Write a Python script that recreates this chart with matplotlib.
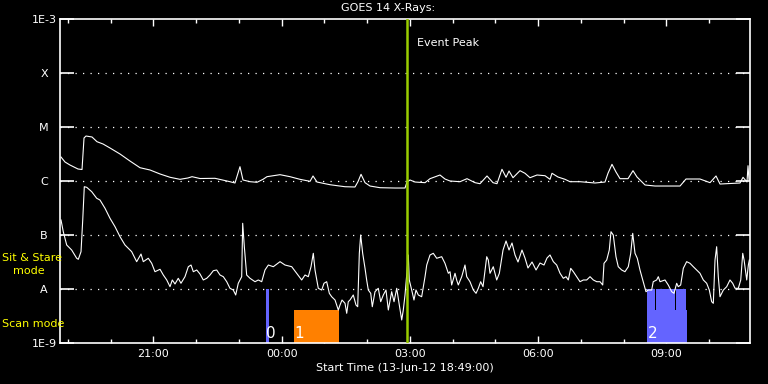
from datetime import datetime, timedelta

import matplotlib
matplotlib.use("Agg")
import matplotlib.pyplot as plt
import matplotlib.dates as mdates
import matplotlib.ticker as mticker
import numpy as np


START = datetime(2012, 6, 13, 18, 49)
END_MIN = 968.4

# minutes after start, log10 flux (W/m^2)
long_min = [1.4, 7.0, 14.0, 25.3, 30.9, 33.7, 36.5, 44.9, 51.9, 60.4, 70.2, 84.2, 98.2,
            112.3, 126.3, 140.4, 154.4, 168.4, 179.6, 185.3, 196.5, 217.5, 238.6, 245.6,
            252.6, 256.8, 266.7, 276.5, 284.9, 290.5, 308.8, 322.8, 336.8, 350.9, 355.1,
            360.7, 379.0, 400.0, 414.0, 418.2, 422.5, 428.1, 435.1, 449.1, 470.2, 484.2,
            487.0, 491.2, 498.2, 512.3, 519.3, 533.3, 540.3, 547.4, 561.4, 571.2, 582.5,
            589.5, 599.3, 607.7, 613.3, 620.3, 626.0, 630.2, 635.8, 645.6, 652.6, 659.6,
            669.5, 680.7, 687.7, 690.5, 698.9, 708.8, 715.8, 729.8, 750.9, 764.9, 769.1,
            774.7, 780.3, 786.0, 797.2, 804.2, 809.8, 821.1, 835.1, 870.2, 878.6, 898.2,
            912.3, 920.7, 926.3, 954.4, 958.6, 964.2, 965.6, 967.0]
long_log = [-5.556, -5.648, -5.704, -5.778, -5.787, -5.204, -5.167, -5.185, -5.272, -5.315,
            -5.389, -5.500, -5.630, -5.754, -5.796, -5.870, -5.931, -5.969, -5.944, -5.920,
            -5.954, -5.950, -6.013, -6.037, -5.735, -5.981, -6.013, -6.024, -5.969, -5.920,
            -5.883, -5.920, -5.969, -6.006, -5.907, -6.019, -6.069, -6.106, -6.111, -6.013,
            -5.876, -6.031, -6.093, -6.124, -6.130, -6.130, -6.019, -5.981, -6.019, -6.031,
            -5.957, -5.889, -5.963, -6.000, -6.013, -5.957, -6.031, -6.050, -5.907, -6.031,
            -6.050, -5.783, -5.931, -5.815, -5.939, -5.809, -5.857, -5.939, -5.889, -5.902,
            -5.969, -5.857, -5.926, -5.969, -6.013, -6.013, -6.037, -6.019, -5.857, -5.691,
            -5.833, -5.957, -5.957, -5.809, -5.926, -6.074, -6.093, -6.093, -5.963, -5.963,
            -6.031, -5.907, -6.056, -6.037, -5.931, -6.019, -5.717, -5.980]

short_min = [1.4, 2.8, 4.6, 9.4, 16.4, 23.4, 25.7, 29.5, 31.9, 34.1, 37.5, 44.5, 51.5, 56.1,
             63.2, 70.2, 77.2, 84.2, 91.2, 100.6, 107.6, 113.7, 116.9, 123.9, 128.7, 133.3,
             140.4, 145.0, 149.8, 154.4, 157.6, 161.4, 166.0, 169.8, 175.4, 180.1, 183.9,
             187.1, 191.9, 196.5, 201.1, 205.9, 210.5, 215.2, 219.9, 224.6, 229.2, 234.0,
             238.6, 243.2, 246.6, 250.2, 255.0, 256.4, 258.7, 262.0, 266.7, 273.7, 278.3,
             283.1, 287.7, 292.4, 299.4, 308.8, 315.8, 325.2, 332.2, 339.2, 343.9, 348.5,
             352.3, 355.5, 357.9, 362.5, 367.3, 370.5, 374.3, 378.0, 381.3, 386.0, 388.3,
             390.6, 393.0, 395.8, 400.0, 402.4, 404.6, 407.0, 411.6, 415.4, 417.8, 420.1,
             422.0, 424.8, 428.1, 430.4, 432.7, 436.1, 438.3, 442.1, 446.7, 450.1, 453.8,
             457.5, 460.8, 465.5, 468.8, 472.6, 476.2, 479.6, 481.8, 484.2, 486.6, 488.8,
             490.2, 493.6, 496.8, 499.6, 502.9, 507.6, 509.9, 512.3, 514.7, 519.3, 523.9,
             528.7, 535.7, 540.3, 545.0, 547.4, 549.7, 554.4, 556.7, 559.0, 563.8, 568.4,
             570.8, 575.4, 580.1, 583.9, 587.1, 590.4, 593.7, 598.9, 601.1, 603.5, 608.1,
             612.9, 616.6, 621.8, 626.0, 630.2, 634.4, 638.6, 642.8, 648.4, 652.6, 656.8,
             662.5, 668.1, 673.7, 679.3, 683.5, 687.7, 692.4, 697.1, 701.8, 706.4, 710.2,
             713.4, 716.8, 720.5, 725.2, 729.8, 734.5, 739.2, 743.9, 748.5, 753.3, 757.9,
             761.7, 763.5, 767.3, 770.9, 773.3, 776.5, 780.3, 783.5, 788.3, 792.9, 797.6,
             801.0, 803.8, 807.0, 810.2, 814.0, 818.6, 822.4, 825.6, 830.4, 832.6, 837.4,
             839.7, 842.1, 849.1, 853.7, 858.5, 861.7, 865.5, 867.7, 871.1, 874.8, 879.5,
             884.2, 888.8, 893.6, 898.2, 902.9, 907.6, 911.3, 914.6, 916.9, 919.3, 921.6,
             923.9, 926.3, 928.7, 931.0, 935.7, 940.3, 944.1, 947.4, 952.0, 955.4, 958.2,
             960.1, 963.8, 966.1, 967.5]
short_log = [-6.722, -6.815, -6.939, -7.185, -7.278, -7.431, -7.450, -7.309, -6.722, -6.106,
             -6.117, -6.198, -6.320, -6.352, -6.506, -6.691, -6.846, -7.031, -7.185, -7.309,
             -7.494, -7.352, -7.494, -7.431, -7.524, -7.680, -7.635, -7.741, -7.833, -7.957,
             -7.833, -7.907, -7.802, -7.894, -7.772, -7.587, -7.556, -7.680, -7.648, -7.722,
             -7.833, -7.802, -7.741, -7.661, -7.648, -7.741, -7.772, -7.865, -7.987, -8.019,
             -8.111, -7.894, -7.772, -6.783, -7.217, -7.741, -7.802, -7.865, -7.833, -7.865,
             -7.648, -7.556, -7.587, -7.494, -7.556, -7.587, -7.709, -7.833, -7.741, -7.772,
             -7.587, -7.339, -7.648, -7.987, -8.019, -7.894, -7.865, -8.080, -8.143, -8.204,
             -8.296, -8.389, -8.296, -8.204, -8.265, -8.450, -8.235, -8.204, -8.111, -8.296,
             -8.328, -7.339, -7.000, -7.339, -7.617, -7.833, -8.019, -8.080, -8.328, -8.050,
             -7.987, -8.235, -8.111, -8.019, -8.389, -8.050, -8.235, -7.987, -8.296, -8.574,
             -8.389, -8.111, -7.741, -7.370, -7.833, -8.019, -8.204, -8.019, -8.111, -8.143,
             -7.957, -7.772, -7.556, -7.370, -7.339, -7.431, -7.402, -7.524, -7.709, -7.680,
             -7.926, -7.709, -7.833, -7.926, -7.772, -7.556, -7.772, -7.865, -8.019, -8.080,
             -7.987, -7.865, -7.957, -7.402, -7.463, -7.709, -7.587, -7.833, -7.709, -7.278,
             -7.111, -7.278, -7.148, -7.370, -7.500, -7.278, -7.426, -7.611, -7.500, -7.648,
             -7.519, -7.556, -7.426, -7.370, -7.494, -7.556, -7.709, -7.802, -7.772, -7.833,
             -7.617, -7.680, -7.772, -7.865, -7.833, -7.833, -7.772, -7.833, -7.865, -7.865,
             -7.926, -7.524, -7.463, -7.278, -6.939, -7.000, -7.402, -7.587, -7.648, -7.680,
             -7.587, -7.339, -6.969, -7.339, -7.431, -7.648, -7.865, -8.050, -8.019, -8.019,
             -7.865, -7.833, -7.772, -7.865, -7.833, -7.926, -8.050, -8.080, -7.894, -7.957,
             -7.926, -7.617, -7.494, -7.524, -7.587, -7.648, -7.709, -7.833, -7.894, -8.019,
             -8.235, -8.265, -7.463, -7.217, -7.772, -8.143, -8.080, -8.019, -7.957, -7.833,
             -7.894, -7.987, -7.987, -7.833, -7.339, -7.463, -7.833, -7.556, -7.463]

# observation windows in minutes after start
sit_stare = [(289.1, 292.9), (823.9, 835.2), (836.2, 863.3), (864.3, 878.2)]
scan = [(328.4, 391.6), (823.9, 879.6)]
scan_colors = ["#ff8000", "#6464ff"]
obs_labels = [(289.5, "0"), (329.5, "1"), (824.5, "2")]
peak_min = 487.0

flux_levels = [1e-9, 1e-8, 1e-7, 1e-6, 1e-5, 1e-4, 1e-3]
flux_names = ["1E-9", "A", "B", "C", "M", "X", "1E-3"]


def t(m):
    return START + timedelta(minutes=m)


fig = plt.figure(figsize=(7.68, 3.84), dpi=100, facecolor="black")
ax = fig.add_axes([60 / 768, 41 / 384, 690 / 768, 324 / 384], facecolor="black")
ax.set_yscale("log")
ax.set_ylim(1e-9, 1e-3)
ax.set_xlim(t(0), t(END_MIN))

for level in flux_levels[1:-1]:
    ax.axhline(level, color="white", lw=0.9, ls=(0, (1, 5)), zorder=1)

# observation bars
for (a, b) in sit_stare:
    ax.fill_between([t(a), t(b)], 1e-9, 1e-8, color="#6464ff", lw=0, zorder=2)
for (a, b), c in zip(scan, scan_colors):
    ax.fill_between([t(a), t(b)], 1e-9, 10 ** -8.389, color=c, lw=0, zorder=2)
for (m, lab) in obs_labels:
    ax.text(t(m), 10 ** -8.82, lab, color="white", fontsize=11, ha="left", va="center", zorder=4)

ax.plot([t(m) for m in long_min], 10 ** np.array(long_log), color="white", lw=0.8, zorder=3)
ax.plot([t(m) for m in short_min], 10 ** np.array(short_log), color="white", lw=0.8, zorder=3)

ax.axvline(t(peak_min), color="#9acd00", lw=1.8, zorder=3)
ax.text(t(peak_min + 14), 10 ** -3.44, "Event Peak", color="white", fontsize=8, va="center")

# axes styling
for sp in ax.spines.values():
    sp.set_color("white")
    sp.set_linewidth(1.2)
ax.yaxis.set_major_locator(mticker.FixedLocator(flux_levels))
ax.yaxis.set_minor_locator(mticker.NullLocator())
ax.yaxis.set_major_formatter(mticker.FixedFormatter(flux_names))
ax.tick_params(axis="y", which="major", direction="in", length=10, width=1.2, colors="white",
               left=True, right=True, labelsize=8, pad=11.5)
for lab in ax.get_yticklabels():
    lab.set_horizontalalignment("center")

ax.xaxis.set_major_locator(mdates.HourLocator(byhour=range(0, 24, 3)))
ax.xaxis.set_minor_locator(mdates.HourLocator())
ax.xaxis.set_major_formatter(mdates.DateFormatter("%H:%M"))
ax.tick_params(axis="x", which="major", direction="in", length=5, width=1, colors="white",
               top=True, bottom=True, labelsize=8, pad=4.5)
ax.tick_params(axis="x", which="minor", direction="in", length=3, width=1, colors="white",
               top=True, bottom=True)
for tk in ax.xaxis.get_major_ticks() + ax.xaxis.get_minor_ticks():
    tk.tick1line.set_zorder(5)

fig.text(388 / 768, 1 - 8 / 384, "GOES 14 X-Rays:", color="white", fontsize=8, ha="center", va="center")
fig.text(405 / 768, 1 - 368 / 384, "Start Time (13-Jun-12 18:49:00)", color="white", fontsize=8,
         ha="center", va="center")
fig.text(2 / 768, 1 - 258 / 384, "Sit & Stare", color="yellow", fontsize=8, ha="left", va="center")
fig.text(13 / 768, 1 - 271 / 384, "mode", color="yellow", fontsize=8, ha="left", va="center")
fig.text(2 / 768, 1 - 324 / 384, "Scan mode", color="yellow", fontsize=8, ha="left", va="center")

fig.savefig("out.png", dpi=100, facecolor="black")
